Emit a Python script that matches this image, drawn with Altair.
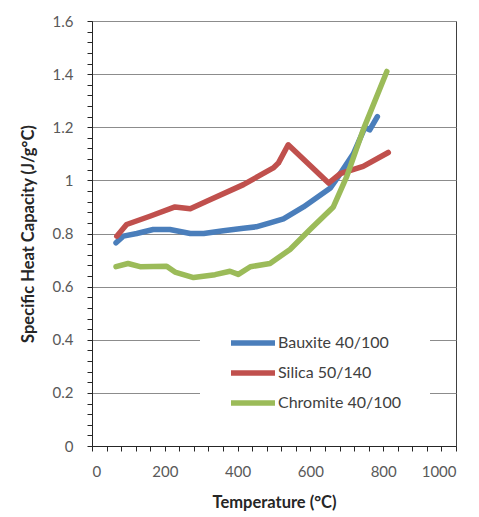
import altair as alt
import pandas as pd

bauxite_t = [66, 86, 123, 168, 214, 270, 307, 361, 416, 451, 489, 526, 581, 654, 677, 718, 750, 763, 784]
bauxite_v = [0.765, 0.79, 0.80, 0.815, 0.815, 0.80, 0.80, 0.81, 0.82, 0.825, 0.84, 0.855, 0.90, 0.97, 1.015, 1.10, 1.20, 1.19, 1.24]

silica_t = [68, 95, 159, 228, 270, 315, 416, 498, 512, 539, 650, 682, 745, 814]
silica_v = [0.79, 0.834, 0.865, 0.90, 0.893, 0.921, 0.984, 1.047, 1.065, 1.134, 0.99, 1.025, 1.053, 1.105]

chromite_t = [66, 99, 132, 205, 228, 279, 338, 379, 402, 435, 489, 544, 599, 663, 700, 745, 810]
chromite_v = [0.675, 0.687, 0.675, 0.677, 0.655, 0.634, 0.645, 0.658, 0.646, 0.675, 0.687, 0.74, 0.815, 0.90, 1.015, 1.19, 1.41]

series = ["Bauxite 40/100", "Silica 50/140", "Chromite 40/100"]
colors = ["#4A7EBB", "#C0504D", "#9BBB59"]

rows = []
for name, ts, vs in zip(series, [bauxite_t, silica_t, chromite_t], [bauxite_v, silica_v, chromite_v]):
    for i, (t, v) in enumerate(zip(ts, vs)):
        rows.append({"Series": name, "T": t, "V": v, "idx": i})
df = pd.DataFrame(rows)

x_vals = [i * 40 for i in range(26)]
y_vals = [round(i * 0.04, 2) for i in range(41)]

FONT = "Lato"

chart = alt.Chart(df).mark_line(strokeWidth=5.5, strokeJoin="round", strokeCap="round").encode(
    x=alt.X("T:Q", scale=alt.Scale(domain=[0, 1000], nice=False),
            axis=alt.Axis(title="Temperature (\u00b0C)", values=x_vals,
                          labelExpr="datum.value % 200 == 0 ? toString(datum.value) : ''",
                          grid=False, tickSize=5, labelPadding=13, titlePadding=15)),
    y=alt.Y("V:Q", scale=alt.Scale(domain=[0, 1.6], nice=False),
            axis=alt.Axis(title="Specific Heat Capacity (J/g\u00b0C)", values=y_vals,
                          labelExpr="abs(datum.value*5 - round(datum.value*5)) < 0.001 ? toString(datum.value) : ''",
                          gridOpacity={"condition": {"test": "abs(datum.value*5 - round(datum.value*5)) < 0.001", "value": 1}, "value": 0},
                          tickSize=5, labelPadding=14, titlePadding=16)),
    color=alt.Color("Series:N", scale=alt.Scale(domain=series, range=colors),
                    legend=alt.Legend(title=None, orient="none", legendX=108, legendY=280,
                                      symbolType="M-2,0H2", symbolSize=484, symbolStrokeWidth=5.5,
                                      symbolOffset=11,
                                      labelFontSize=16, labelFont=FONT, labelColor="#404040",
                                      fillColor="white", padding=28, rowPadding=5, labelOffset=11)),
    order="idx:Q",
).properties(
    width=364, height=425,
    padding={"left": 92, "top": 21, "right": 23, "bottom": 71},
    autosize=alt.AutoSizeParams(type="none"),
    background="white",
).configure_view(
    stroke="#404040", strokeWidth=1
).configure_axis(
    labelFont=FONT, titleFont=FONT, labelFontSize=15, titleFontSize=16.5,
    labelColor="#595959", titleColor="#262626", titleFontWeight="bold",
    domainColor="#262626", tickColor="#262626", gridColor="#8C8C8C", gridWidth=1.2,
)

chart.save("out.html", embed_options={"renderer": "svg", "actions": False})
